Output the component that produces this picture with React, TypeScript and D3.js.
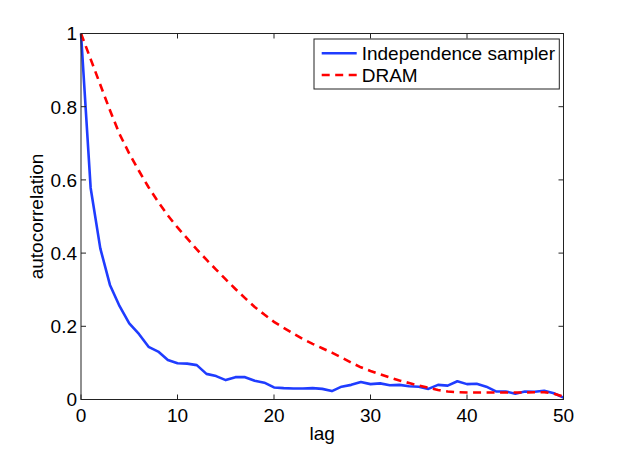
import React from "react";
import * as d3 from "d3";

const lags: number[] = d3.range(0, 51);

const independenceSampler: number[] = [
  1.0, 0.578, 0.413, 0.313, 0.255, 0.208, 0.179, 0.144, 0.131, 0.108,
  0.099, 0.098, 0.094, 0.07, 0.064, 0.053, 0.061, 0.061, 0.051, 0.046,
  0.033, 0.031, 0.03, 0.03, 0.031, 0.029, 0.023, 0.035, 0.04, 0.048,
  0.042, 0.044, 0.039, 0.04, 0.036, 0.035, 0.029, 0.04, 0.038, 0.05,
  0.042, 0.043, 0.035, 0.022, 0.022, 0.016, 0.022, 0.021, 0.024, 0.017,
  0.005,
];

const dram: number[] = [
  1.0, 0.93, 0.86, 0.79, 0.725, 0.672, 0.625, 0.58, 0.54, 0.503,
  0.47, 0.44, 0.41, 0.382, 0.355, 0.328, 0.302, 0.277, 0.253, 0.232,
  0.212, 0.196, 0.18, 0.165, 0.152, 0.14, 0.128, 0.115, 0.101, 0.088,
  0.078, 0.069, 0.06, 0.052, 0.045, 0.038, 0.032, 0.026, 0.022, 0.02,
  0.019, 0.019, 0.019, 0.019, 0.019, 0.019, 0.019, 0.02, 0.02, 0.016,
  0.008,
];

const xTicks: number[] = [0, 10, 20, 30, 40, 50];
const yTicks: number[] = [0, 0.2, 0.4, 0.6, 0.8, 1];
const yTickLabels: string[] = ["0", "0.2", "0.4", "0.6", "0.8", "1"];
const seriesNames: string[] = ["Independence sampler", "DRAM"];

const W = 623;
const H = 450;
const L = 81;
const R = 563.5;
const T = 33.5;
const B = 399.5;
const FONT = "Helvetica, 'Liberation Sans', Arial, sans-serif";
const FS = 19;
const TICK = 5;

export default function App() {
  const x = d3.scaleLinear().domain([0, 50]).range([L, R]);
  const y = d3.scaleLinear().domain([0, 1]).range([B, T]);
  const line = d3
    .line<number>()
    .x((_, i) => x(lags[i]))
    .y((d) => y(d));

  const blue = "#1f3cff";
  const red = "#ff0000";

  return (
    <svg
      width={W}
      height={H}
      style={{ position: "absolute", left: 0, top: 0, background: "#fff" }}
      fontFamily={FONT}
    >
      <rect x={0} y={0} width={W} height={H} fill="#fff" />
      {/* lines */}
      <path d={line(independenceSampler) || ""} fill="none" stroke={blue} strokeWidth={2.6} strokeLinejoin="round" />
      <path d={line(dram) || ""} fill="none" stroke={red} strokeWidth={2.6} strokeDasharray="8,5.5" />

      {/* axes box */}
      <rect x={L} y={T} width={R - L} height={B - T} fill="none" stroke="#222" strokeWidth={1} />
      {xTicks.map((t) => (
        <g key={"xt" + t}>
          <line x1={x(t)} x2={x(t)} y1={B} y2={B - TICK} stroke="#222" />
          <line x1={x(t)} x2={x(t)} y1={T} y2={T + TICK} stroke="#222" />
          <text x={x(t)} y={421.7} fontSize={FS} textAnchor="middle" fill="#000">
            {t}
          </text>
        </g>
      ))}
      {yTicks.map((t, i) => (
        <g key={"yt" + t}>
          <line x1={L} x2={L + TICK} y1={y(t)} y2={y(t)} stroke="#222" />
          <line x1={R} x2={R - TICK} y1={y(t)} y2={y(t)} stroke="#222" />
          <text x={77} y={y(t) + 6.8} fontSize={FS} textAnchor="end" fill="#000">
            {yTickLabels[i]}
          </text>
        </g>
      ))}
      <text x={(L + R) / 2} y={439.5} fontSize={FS} textAnchor="middle" fill="#000">
        lag
      </text>
      <text
        transform={`translate(42.7,${(T + B) / 2}) rotate(-90)`}
        fontSize={FS}
        textAnchor="middle"
        fill="#000"
      >
        autocorrelation
      </text>

      {/* legend */}
      <rect x={314} y={39} width={245.3} height={50} fill="#fff" stroke="#222" strokeWidth={1} />
      <line x1={321.7} x2={356.7} y1={53.3} y2={53.3} stroke={blue} strokeWidth={2.6} />
      <line x1={321.7} x2={356.7} y1={75} y2={75} stroke={red} strokeWidth={2.6} strokeDasharray="8,5.5" />
      <text x={361.7} y={53.3 + 6.8} fontSize={FS} fill="#000">
        {seriesNames[0]}
      </text>
      <text x={361.7} y={75 + 6.8} fontSize={FS} fill="#000">
        {seriesNames[1]}
      </text>
    </svg>
  );
}
